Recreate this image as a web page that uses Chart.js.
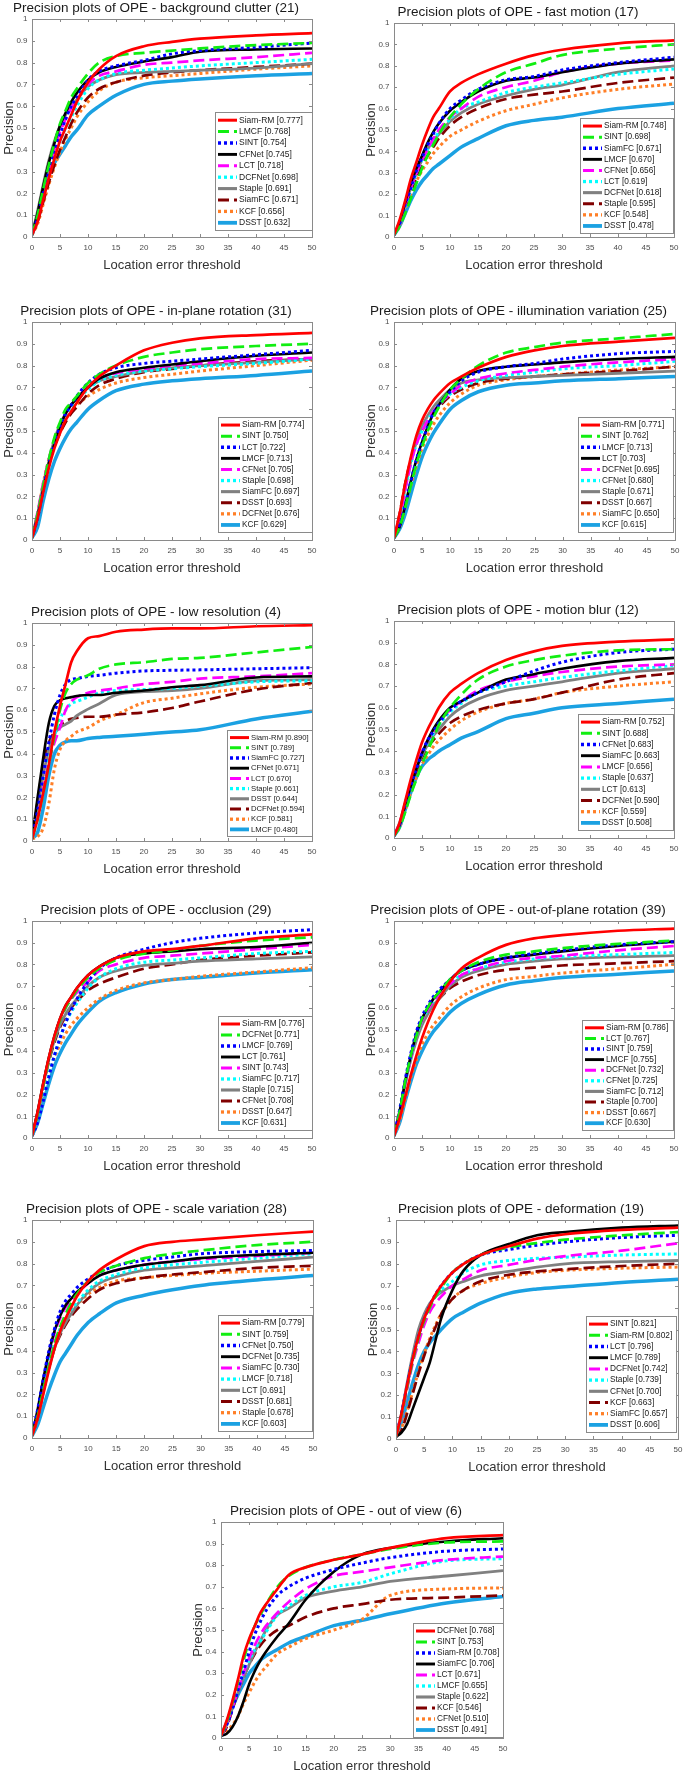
<!DOCTYPE html>
<html>
<head>
<meta charset="utf-8">
<script src="https://cdn.jsdelivr.net/npm/chart.js@4.4.1/dist/chart.umd.min.js"></script>
<style>
  html, body { margin: 0; padding: 0; background: #fff; }
  body { width: 685px; height: 1772px; position: relative; overflow: hidden; }
  canvas { position: absolute; }
</style>
</head>
<body>
<script>
// location error thresholds (x axis samples)
const thresholds = [0, 1, 2, 3, 4, 5, 6, 7, 8, 10, 12, 15, 20, 25, 30, 40, 50];

// --- background clutter (21) ---
const clutterNames = ['Siam-RM', 'LMCF', 'SINT', 'CFNet', 'LCT', 'DCFNet', 'Staple', 'SiamFC', 'KCF', 'DSST'];
const clutterScores = [0.777, 0.768, 0.754, 0.745, 0.718, 0.698, 0.691, 0.671, 0.656, 0.632];
const clutterCurves = [
  [0.01,0.07,0.17,0.27,0.36,0.44,0.50,0.56,0.62,0.71,0.77,0.83,0.875,0.895,0.91,0.925,0.935],
  [0.01,0.10,0.22,0.33,0.43,0.52,0.58,0.64,0.68,0.75,0.80,0.83,0.845,0.855,0.865,0.88,0.89],
  [0.01,0.09,0.20,0.30,0.39,0.47,0.54,0.60,0.64,0.72,0.76,0.785,0.81,0.84,0.855,0.87,0.89],
  [0.01,0.11,0.23,0.34,0.43,0.51,0.57,0.62,0.66,0.72,0.755,0.78,0.805,0.825,0.85,0.86,0.865],
  [0.01,0.09,0.20,0.31,0.40,0.48,0.54,0.59,0.63,0.70,0.74,0.76,0.79,0.80,0.81,0.825,0.845],
  [0.01,0.08,0.19,0.29,0.37,0.44,0.50,0.55,0.60,0.68,0.72,0.75,0.765,0.775,0.785,0.80,0.815],
  [0.01,0.12,0.24,0.35,0.44,0.51,0.56,0.60,0.63,0.69,0.72,0.745,0.755,0.76,0.765,0.775,0.795],
  [0.01,0.07,0.16,0.25,0.33,0.40,0.46,0.52,0.57,0.64,0.68,0.71,0.74,0.755,0.765,0.78,0.795],
  [0.01,0.06,0.15,0.24,0.32,0.39,0.45,0.50,0.55,0.62,0.67,0.71,0.73,0.74,0.75,0.77,0.785],
  [0.01,0.10,0.19,0.28,0.34,0.38,0.42,0.46,0.49,0.56,0.60,0.65,0.70,0.715,0.725,0.74,0.75]
];

// --- fast motion (17) ---
const fastNames = ['Siam-RM', 'SINT', 'SiamFC', 'LMCF', 'CFNet', 'LCT', 'DCFNet', 'Staple', 'KCF', 'DSST'];
const fastScores = [0.748, 0.698, 0.671, 0.670, 0.656, 0.619, 0.618, 0.595, 0.548, 0.478];
const fastCurves = [
  [0.01,0.08,0.17,0.27,0.35,0.43,0.50,0.56,0.60,0.68,0.72,0.76,0.81,0.85,0.875,0.905,0.919],
  [0.01,0.05,0.11,0.18,0.25,0.32,0.38,0.43,0.48,0.56,0.62,0.69,0.77,0.81,0.85,0.88,0.90],
  [0.01,0.06,0.15,0.23,0.31,0.37,0.43,0.48,0.53,0.60,0.64,0.69,0.735,0.75,0.78,0.815,0.84],
  [0.01,0.07,0.16,0.25,0.32,0.38,0.44,0.49,0.53,0.59,0.63,0.68,0.73,0.745,0.77,0.81,0.83],
  [0.01,0.06,0.15,0.23,0.30,0.36,0.41,0.46,0.50,0.56,0.60,0.655,0.70,0.73,0.77,0.81,0.825],
  [0.01,0.06,0.14,0.22,0.30,0.36,0.41,0.45,0.49,0.55,0.60,0.63,0.675,0.70,0.72,0.76,0.785],
  [0.01,0.06,0.15,0.23,0.30,0.36,0.41,0.45,0.48,0.54,0.58,0.62,0.66,0.69,0.71,0.77,0.80],
  [0.01,0.06,0.14,0.21,0.28,0.34,0.38,0.42,0.46,0.52,0.56,0.60,0.645,0.665,0.68,0.72,0.745],
  [0.01,0.05,0.13,0.20,0.26,0.31,0.35,0.39,0.42,0.47,0.50,0.54,0.59,0.62,0.65,0.69,0.715],
  [0.01,0.05,0.11,0.17,0.22,0.26,0.29,0.32,0.34,0.38,0.42,0.46,0.52,0.545,0.56,0.60,0.625]
];

// --- in-plane rotation (31) ---
const inPlaneNames = ['Siam-RM', 'SINT', 'LCT', 'LMCF', 'CFNet', 'Staple', 'SiamFC', 'DSST', 'DCFNet', 'KCF'];
const inPlaneScores = [0.774, 0.750, 0.722, 0.713, 0.705, 0.698, 0.697, 0.693, 0.676, 0.629];
const inPlaneCurves = [
  [0.01,0.10,0.22,0.33,0.42,0.49,0.55,0.59,0.63,0.70,0.75,0.80,0.87,0.905,0.925,0.94,0.95],
  [0.01,0.12,0.25,0.37,0.47,0.54,0.60,0.63,0.66,0.72,0.76,0.80,0.84,0.86,0.875,0.89,0.90],
  [0.01,0.10,0.23,0.35,0.44,0.52,0.58,0.62,0.66,0.72,0.76,0.79,0.81,0.82,0.83,0.85,0.87],
  [0.01,0.11,0.23,0.35,0.44,0.52,0.58,0.62,0.65,0.70,0.74,0.77,0.79,0.805,0.82,0.845,0.86],
  [0.01,0.13,0.26,0.37,0.46,0.53,0.58,0.62,0.65,0.70,0.74,0.765,0.785,0.80,0.81,0.83,0.835],
  [0.01,0.11,0.24,0.35,0.44,0.51,0.57,0.61,0.64,0.69,0.73,0.755,0.775,0.785,0.795,0.81,0.83],
  [0.01,0.12,0.25,0.36,0.46,0.53,0.58,0.62,0.65,0.70,0.73,0.75,0.775,0.79,0.80,0.815,0.83],
  [0.01,0.11,0.24,0.35,0.43,0.49,0.54,0.58,0.61,0.67,0.71,0.74,0.77,0.785,0.80,0.82,0.83],
  [0.01,0.12,0.26,0.37,0.45,0.52,0.57,0.60,0.62,0.66,0.69,0.72,0.745,0.76,0.775,0.80,0.825],
  [0.01,0.06,0.18,0.28,0.36,0.42,0.47,0.51,0.54,0.60,0.64,0.685,0.715,0.73,0.74,0.755,0.775]
];

// --- illumination variation (25) ---
const illumNames = ['Siam-RM', 'SINT', 'LMCF', 'LCT', 'DCFNet', 'CFNet', 'Staple', 'DSST', 'SiamFC', 'KCF'];
const illumScores = [0.771, 0.762, 0.713, 0.703, 0.695, 0.680, 0.671, 0.667, 0.650, 0.615];
const illumCurves = [
  [0.01,0.12,0.26,0.38,0.48,0.55,0.60,0.64,0.67,0.72,0.75,0.79,0.84,0.87,0.89,0.91,0.927],
  [0.01,0.06,0.15,0.25,0.35,0.43,0.50,0.56,0.61,0.69,0.74,0.80,0.86,0.885,0.905,0.925,0.945],
  [0.01,0.07,0.16,0.27,0.37,0.45,0.52,0.58,0.62,0.68,0.73,0.77,0.795,0.81,0.83,0.855,0.865],
  [0.01,0.06,0.16,0.27,0.37,0.45,0.52,0.58,0.62,0.69,0.74,0.775,0.795,0.805,0.815,0.83,0.84],
  [0.01,0.10,0.23,0.35,0.44,0.50,0.55,0.59,0.62,0.67,0.71,0.74,0.765,0.78,0.795,0.815,0.83],
  [0.01,0.10,0.23,0.35,0.44,0.50,0.55,0.59,0.62,0.67,0.70,0.73,0.755,0.77,0.785,0.80,0.82],
  [0.01,0.11,0.24,0.36,0.45,0.52,0.57,0.61,0.64,0.69,0.72,0.735,0.745,0.75,0.755,0.765,0.775],
  [0.01,0.12,0.26,0.37,0.45,0.50,0.55,0.58,0.61,0.66,0.69,0.72,0.74,0.75,0.76,0.775,0.795],
  [0.01,0.06,0.15,0.25,0.34,0.42,0.48,0.53,0.57,0.63,0.67,0.71,0.735,0.75,0.76,0.78,0.795],
  [0.01,0.05,0.12,0.21,0.30,0.38,0.44,0.49,0.53,0.60,0.64,0.68,0.71,0.72,0.73,0.74,0.75]
];

// --- low resolution (4) ---
const lowResNames = ['Siam-RM', 'SINT', 'SiamFC', 'CFNet', 'LCT', 'Staple', 'DSST', 'DCFNet', 'KCF', 'LMCF'];
const lowResScores = [0.890, 0.789, 0.727, 0.671, 0.670, 0.661, 0.644, 0.594, 0.581, 0.480];
const lowResCurves = [
  [0.01,0.10,0.22,0.35,0.50,0.62,0.72,0.82,0.87,0.93,0.94,0.96,0.97,0.975,0.975,0.985,0.99],
  [0.01,0.10,0.22,0.35,0.48,0.60,0.68,0.72,0.74,0.76,0.79,0.81,0.82,0.835,0.84,0.865,0.89],
  [0.01,0.14,0.30,0.45,0.58,0.67,0.72,0.74,0.745,0.755,0.76,0.77,0.78,0.783,0.785,0.79,0.795],
  [0.01,0.20,0.38,0.54,0.62,0.645,0.655,0.66,0.665,0.67,0.67,0.68,0.69,0.705,0.715,0.75,0.755],
  [0.01,0.11,0.24,0.36,0.45,0.52,0.60,0.64,0.66,0.68,0.69,0.70,0.72,0.73,0.745,0.755,0.77],
  [0.01,0.11,0.24,0.37,0.48,0.56,0.60,0.63,0.64,0.66,0.68,0.69,0.695,0.70,0.71,0.73,0.735],
  [0.01,0.15,0.30,0.42,0.49,0.52,0.535,0.55,0.575,0.605,0.63,0.67,0.685,0.69,0.70,0.735,0.74],
  [0.01,0.18,0.35,0.45,0.50,0.53,0.55,0.56,0.565,0.57,0.57,0.58,0.59,0.61,0.64,0.695,0.725],
  [0.01,0.02,0.06,0.17,0.33,0.42,0.46,0.48,0.50,0.52,0.55,0.58,0.635,0.655,0.675,0.705,0.72],
  [0.01,0.04,0.15,0.30,0.40,0.44,0.455,0.46,0.46,0.47,0.475,0.48,0.49,0.50,0.51,0.56,0.595]
];

// --- motion blur (12) ---
const blurNames = ['Siam-RM', 'SINT', 'CFNet', 'SiamFC', 'LMCF', 'Staple', 'LCT', 'DCFNet', 'KCF', 'DSST'];
const blurScores = [0.752, 0.688, 0.683, 0.663, 0.656, 0.637, 0.613, 0.590, 0.559, 0.508];
const blurCurves = [
  [0.01,0.07,0.17,0.27,0.36,0.44,0.50,0.55,0.60,0.67,0.71,0.76,0.82,0.86,0.885,0.905,0.915],
  [0.01,0.05,0.12,0.20,0.27,0.34,0.40,0.46,0.52,0.60,0.66,0.73,0.79,0.82,0.84,0.865,0.87],
  [0.01,0.06,0.15,0.24,0.32,0.39,0.45,0.49,0.53,0.59,0.63,0.67,0.72,0.77,0.81,0.855,0.87],
  [0.01,0.06,0.15,0.24,0.32,0.39,0.45,0.50,0.54,0.60,0.63,0.67,0.73,0.755,0.78,0.815,0.83],
  [0.01,0.07,0.16,0.25,0.33,0.40,0.45,0.49,0.53,0.59,0.63,0.68,0.72,0.745,0.765,0.79,0.80],
  [0.01,0.06,0.16,0.25,0.33,0.39,0.44,0.48,0.52,0.58,0.62,0.67,0.70,0.72,0.74,0.77,0.795],
  [0.01,0.07,0.16,0.25,0.32,0.38,0.43,0.47,0.50,0.56,0.60,0.64,0.68,0.70,0.72,0.76,0.78],
  [0.01,0.06,0.15,0.24,0.31,0.37,0.42,0.45,0.48,0.53,0.56,0.59,0.62,0.64,0.67,0.73,0.76],
  [0.01,0.05,0.13,0.21,0.28,0.34,0.38,0.42,0.45,0.50,0.54,0.58,0.62,0.64,0.67,0.70,0.72],
  [0.01,0.05,0.13,0.21,0.28,0.33,0.36,0.38,0.40,0.43,0.46,0.49,0.55,0.575,0.60,0.62,0.64]
];

// --- occlusion (29) ---
const occlNames = ['Siam-RM', 'DCFNet', 'LMCF', 'LCT', 'SINT', 'SiamFC', 'Staple', 'CFNet', 'DSST', 'KCF'];
const occlScores = [0.776, 0.771, 0.769, 0.761, 0.743, 0.717, 0.715, 0.708, 0.647, 0.631];
const occlCurves = [
  [0.01,0.12,0.25,0.37,0.47,0.55,0.61,0.65,0.69,0.75,0.79,0.83,0.86,0.87,0.885,0.92,0.938],
  [0.01,0.11,0.24,0.36,0.46,0.54,0.60,0.64,0.68,0.74,0.78,0.82,0.85,0.865,0.885,0.91,0.925],
  [0.01,0.07,0.17,0.28,0.38,0.46,0.53,0.59,0.64,0.72,0.78,0.83,0.87,0.90,0.92,0.945,0.96],
  [0.01,0.12,0.25,0.37,0.47,0.55,0.61,0.65,0.69,0.75,0.79,0.83,0.85,0.86,0.87,0.88,0.90],
  [0.01,0.11,0.24,0.36,0.46,0.54,0.60,0.64,0.67,0.72,0.77,0.80,0.83,0.84,0.85,0.87,0.89],
  [0.01,0.08,0.18,0.29,0.38,0.46,0.53,0.58,0.62,0.69,0.74,0.78,0.81,0.82,0.83,0.85,0.86],
  [0.01,0.12,0.25,0.36,0.45,0.52,0.57,0.61,0.64,0.70,0.74,0.77,0.795,0.805,0.815,0.825,0.835],
  [0.01,0.11,0.24,0.35,0.44,0.51,0.56,0.60,0.63,0.68,0.71,0.74,0.78,0.80,0.82,0.84,0.855],
  [0.01,0.08,0.19,0.29,0.37,0.43,0.48,0.52,0.55,0.60,0.64,0.68,0.715,0.73,0.745,0.765,0.785],
  [0.01,0.07,0.16,0.25,0.33,0.39,0.44,0.48,0.52,0.58,0.63,0.67,0.71,0.73,0.74,0.76,0.775]
];

// --- out-of-plane rotation (39) ---
const outPlaneNames = ['Siam-RM', 'LCT', 'SINT', 'LMCF', 'DCFNet', 'CFNet', 'SiamFC', 'Staple', 'DSST', 'KCF'];
const outPlaneScores = [0.786, 0.767, 0.759, 0.755, 0.732, 0.725, 0.712, 0.700, 0.667, 0.630];
const outPlaneCurves = [
  [0.01,0.09,0.19,0.29,0.38,0.46,0.53,0.59,0.64,0.72,0.78,0.83,0.89,0.92,0.935,0.955,0.965],
  [0.01,0.12,0.26,0.38,0.47,0.55,0.60,0.64,0.67,0.73,0.77,0.81,0.845,0.86,0.875,0.895,0.91],
  [0.01,0.13,0.27,0.39,0.49,0.56,0.61,0.65,0.68,0.73,0.77,0.80,0.83,0.85,0.865,0.89,0.905],
  [0.01,0.12,0.26,0.38,0.48,0.55,0.60,0.64,0.67,0.73,0.77,0.80,0.83,0.845,0.86,0.885,0.905],
  [0.01,0.12,0.25,0.37,0.47,0.54,0.59,0.63,0.66,0.71,0.75,0.78,0.815,0.83,0.84,0.865,0.885],
  [0.01,0.11,0.25,0.37,0.47,0.54,0.59,0.63,0.66,0.71,0.75,0.78,0.81,0.825,0.835,0.845,0.855],
  [0.01,0.12,0.25,0.36,0.45,0.52,0.57,0.61,0.64,0.70,0.74,0.77,0.80,0.815,0.825,0.835,0.84],
  [0.01,0.12,0.25,0.37,0.46,0.53,0.58,0.61,0.64,0.69,0.72,0.75,0.775,0.785,0.795,0.805,0.815],
  [0.01,0.08,0.18,0.28,0.36,0.43,0.48,0.52,0.55,0.61,0.65,0.69,0.73,0.745,0.76,0.78,0.80],
  [0.01,0.07,0.17,0.26,0.34,0.40,0.45,0.49,0.52,0.58,0.62,0.66,0.705,0.725,0.74,0.755,0.77]
];

// --- scale variation (28) ---
const scaleNames = ['Siam-RM', 'SINT', 'CFNet', 'DCFNet', 'SiamFC', 'LMCF', 'LCT', 'DSST', 'Staple', 'KCF'];
const scaleScores = [0.779, 0.759, 0.750, 0.735, 0.730, 0.718, 0.691, 0.681, 0.678, 0.603];
const scaleCurves = [
  [0.01,0.09,0.20,0.31,0.41,0.49,0.55,0.60,0.65,0.72,0.77,0.82,0.88,0.90,0.91,0.93,0.947],
  [0.01,0.10,0.22,0.33,0.43,0.51,0.57,0.62,0.66,0.72,0.76,0.79,0.825,0.845,0.86,0.885,0.90],
  [0.01,0.13,0.27,0.40,0.50,0.58,0.63,0.66,0.69,0.73,0.76,0.79,0.815,0.83,0.845,0.855,0.86],
  [0.01,0.13,0.27,0.39,0.49,0.56,0.61,0.64,0.67,0.71,0.745,0.77,0.795,0.81,0.825,0.84,0.85],
  [0.01,0.12,0.26,0.38,0.48,0.55,0.60,0.63,0.66,0.71,0.745,0.77,0.795,0.81,0.82,0.835,0.85],
  [0.01,0.10,0.23,0.34,0.43,0.50,0.55,0.59,0.62,0.68,0.72,0.75,0.78,0.795,0.805,0.825,0.845],
  [0.01,0.09,0.21,0.32,0.41,0.48,0.53,0.57,0.61,0.67,0.71,0.74,0.77,0.78,0.79,0.81,0.83],
  [0.01,0.09,0.21,0.32,0.41,0.47,0.52,0.56,0.59,0.64,0.68,0.71,0.735,0.75,0.76,0.78,0.79],
  [0.01,0.11,0.24,0.35,0.44,0.50,0.55,0.58,0.61,0.66,0.69,0.72,0.735,0.745,0.755,0.765,0.775],
  [0.01,0.06,0.14,0.22,0.29,0.35,0.39,0.43,0.47,0.53,0.57,0.62,0.655,0.68,0.70,0.725,0.745]
];

// --- deformation (19) ---
const deformNames = ['SINT', 'Siam-RM', 'LCT', 'LMCF', 'DCFNet', 'Staple', 'CFNet', 'KCF', 'SiamFC', 'DSST'];
const deformScores = [0.821, 0.802, 0.796, 0.789, 0.742, 0.739, 0.700, 0.663, 0.657, 0.606];
const deformCurves = [
  [0.01,0.12,0.25,0.37,0.47,0.55,0.61,0.66,0.70,0.76,0.80,0.84,0.88,0.915,0.935,0.955,0.965],
  [0.01,0.11,0.24,0.36,0.46,0.54,0.60,0.65,0.69,0.76,0.80,0.84,0.875,0.895,0.91,0.93,0.945],
  [0.01,0.12,0.25,0.37,0.47,0.55,0.61,0.66,0.70,0.76,0.80,0.84,0.865,0.885,0.90,0.92,0.93],
  [0.01,0.03,0.07,0.14,0.21,0.28,0.35,0.45,0.55,0.68,0.77,0.84,0.89,0.93,0.945,0.965,0.975],
  [0.01,0.10,0.23,0.35,0.44,0.52,0.58,0.62,0.65,0.70,0.73,0.77,0.795,0.818,0.835,0.86,0.894],
  [0.01,0.11,0.25,0.37,0.47,0.55,0.61,0.65,0.68,0.72,0.76,0.795,0.815,0.825,0.83,0.84,0.845],
  [0.01,0.12,0.26,0.39,0.50,0.57,0.62,0.65,0.67,0.70,0.72,0.745,0.765,0.785,0.80,0.81,0.815],
  [0.01,0.04,0.12,0.21,0.30,0.38,0.45,0.51,0.57,0.64,0.68,0.72,0.75,0.765,0.775,0.79,0.80],
  [0.01,0.05,0.13,0.22,0.31,0.39,0.46,0.52,0.57,0.64,0.68,0.71,0.74,0.76,0.77,0.78,0.785],
  [0.01,0.08,0.17,0.26,0.34,0.40,0.44,0.47,0.50,0.55,0.58,0.62,0.665,0.685,0.695,0.715,0.73]
];

// --- out of view (6) ---
const viewNames = ['DCFNet', 'SINT', 'Siam-RM', 'SiamFC', 'LCT', 'LMCF', 'Staple', 'KCF', 'CFNet', 'DSST'];
const viewScores = [0.768, 0.753, 0.708, 0.706, 0.671, 0.655, 0.622, 0.546, 0.510, 0.491];
const viewCurves = [
  [0.01,0.08,0.17,0.27,0.38,0.46,0.52,0.58,0.62,0.69,0.755,0.79,0.825,0.85,0.88,0.925,0.939],
  [0.01,0.07,0.16,0.26,0.36,0.45,0.52,0.57,0.62,0.70,0.75,0.79,0.825,0.85,0.875,0.905,0.91],
  [0.01,0.06,0.13,0.22,0.31,0.40,0.48,0.54,0.59,0.66,0.70,0.74,0.78,0.81,0.835,0.865,0.875],
  [0.01,0.02,0.05,0.10,0.17,0.25,0.31,0.36,0.40,0.47,0.53,0.64,0.77,0.85,0.88,0.91,0.925],
  [0.01,0.06,0.14,0.22,0.30,0.37,0.43,0.48,0.52,0.58,0.63,0.69,0.75,0.77,0.79,0.825,0.84],
  [0.01,0.07,0.15,0.23,0.30,0.36,0.41,0.45,0.49,0.57,0.61,0.66,0.70,0.72,0.76,0.82,0.83],
  [0.01,0.06,0.14,0.21,0.28,0.34,0.40,0.45,0.50,0.57,0.60,0.65,0.68,0.70,0.725,0.75,0.775],
  [0.01,0.05,0.13,0.21,0.28,0.34,0.39,0.43,0.46,0.50,0.52,0.56,0.60,0.62,0.64,0.65,0.66],
  [0.01,0.03,0.06,0.10,0.16,0.21,0.26,0.30,0.33,0.39,0.42,0.46,0.50,0.55,0.66,0.69,0.695],
  [0.01,0.07,0.14,0.20,0.25,0.30,0.33,0.36,0.38,0.41,0.44,0.47,0.52,0.545,0.575,0.625,0.655]
];

const plotTitles = [
  'Precision plots of OPE - background clutter (21)',
  'Precision plots of OPE - fast motion (17)',
  'Precision plots of OPE - in-plane rotation (31)',
  'Precision plots of OPE - illumination variation (25)',
  'Precision plots of OPE - low resolution (4)',
  'Precision plots of OPE - motion blur (12)',
  'Precision plots of OPE - occlusion (29)',
  'Precision plots of OPE - out-of-plane rotation (39)',
  'Precision plots of OPE - scale variation (28)',
  'Precision plots of OPE - deformation (19)',
  'Precision plots of OPE - out of view (6)'
];

const plotNames = [clutterNames, fastNames, inPlaneNames, illumNames, lowResNames, blurNames, occlNames, outPlaneNames, scaleNames, deformNames, viewNames];
const plotScores = [clutterScores, fastScores, inPlaneScores, illumScores, lowResScores, blurScores, occlScores, outPlaneScores, scaleScores, deformScores, viewScores];
const plotCurves = [clutterCurves, fastCurves, inPlaneCurves, illumCurves, lowResCurves, blurCurves, occlCurves, outPlaneCurves, scaleCurves, deformCurves, viewCurves];

// line style by rank (matlab tracker-benchmark style)
const rankStyles = [
  { color: '#ff0000', dash: [], width: 2.7 },
  { color: '#11ee11', dash: [11, 5], width: 2.7 },
  { color: '#0000ff', dash: [3, 3], width: 3 },
  { color: '#000000', dash: [], width: 2.6 },
  { color: '#ff00ff', dash: [11, 5], width: 2.7 },
  { color: '#00ffff', dash: [3, 3], width: 3 },
  { color: '#808080', dash: [], width: 2.8 },
  { color: '#800000', dash: [11, 5], width: 2.7 },
  { color: '#ff7f27', dash: [3, 3], width: 3 },
  { color: '#1ba1e2', dash: [], width: 3.5 }
];

// page geometry: plot area [left, top, right, bottom] and legend box [x, y, w, h, fontSize]
const plotRects = [
  [32, 19, 312, 237], [394, 23, 674, 237],
  [32, 322, 312, 540], [394, 322, 675, 540],
  [32, 623, 312, 841], [394, 621, 674, 838],
  [32, 921, 312, 1138], [394, 921, 674, 1138],
  [32, 1220, 313, 1438], [396, 1220, 678, 1439],
  [221, 1522, 503, 1738]
];
const legendRects = [
  [215, 112, 97, 118, 8.5], [580, 118, 93, 115, 8.3],
  [218, 417, 94, 115, 8.3], [578, 417, 95, 115, 8.3],
  [227, 730, 85, 106, 7.7], [578, 714, 95, 116, 8.3],
  [218, 1016, 94, 114, 8.3], [582, 1020, 91, 110, 8.3],
  [218, 1315, 94, 116, 8.3], [586, 1316, 90, 116, 8.3],
  [413, 1623, 90, 114, 8.3]
];

Chart.defaults.font.family = '"Liberation Sans", Arial, Helvetica, sans-serif';

// box around the axes with inward ticks on all four sides
const axesBox = {
  id: 'axesBox',
  afterDatasetsDraw(chart) {
    const { ctx, chartArea: a, scales: { x, y } } = chart;
    ctx.save();
    ctx.strokeStyle = '#8a8a8a';
    ctx.lineWidth = 1;
    ctx.beginPath();
    x.ticks.forEach(t => {
      const px = Math.round(x.getPixelForValue(t.value)) + 0.5;
      ctx.moveTo(px, a.bottom); ctx.lineTo(px, a.bottom - 3);
      ctx.moveTo(px, a.top); ctx.lineTo(px, a.top + 3);
    });
    y.ticks.forEach(t => {
      const py = Math.round(y.getPixelForValue(t.value)) + 0.5;
      ctx.moveTo(a.left, py); ctx.lineTo(a.left + 3, py);
      ctx.moveTo(a.right, py); ctx.lineTo(a.right - 3, py);
    });
    ctx.stroke();
    ctx.strokeRect(Math.round(a.left) + 0.5, Math.round(a.top) + 0.5, Math.round(a.right - a.left), Math.round(a.bottom - a.top));
    ctx.restore();
  }
};

// matlab-like legend box inside the plot
const boxLegend = {
  id: 'boxLegend',
  afterDraw(chart, args, opts) {
    const { ctx } = chart;
    const [bx, by, bw, bh, fs] = opts.rect;
    ctx.save();
    ctx.fillStyle = '#fff';
    ctx.fillRect(bx, by, bw, bh);
    ctx.strokeStyle = '#8a8a8a';
    ctx.lineWidth = 1;
    ctx.strokeRect(bx + 0.5, by + 0.5, bw, bh);
    const sets = chart.data.datasets;
    const rowH = (bh - 4) / sets.length;
    ctx.font = fs + 'px "Liberation Sans", Arial, sans-serif';
    ctx.textBaseline = 'middle';
    sets.forEach((ds, k) => {
      const cy = by + 2.5 + rowH * (k + 0.5);
      ctx.beginPath();
      ctx.setLineDash(ds.borderDash);
      ctx.strokeStyle = ds.borderColor;
      ctx.lineWidth = ds.borderWidth + 0.3;
      ctx.moveTo(bx + 3, cy);
      ctx.lineTo(bx + 22, cy);
      ctx.stroke();
      ctx.setLineDash([]);
      ctx.fillStyle = '#1a1a1a';
      ctx.fillText(ds.label, bx + 24, cy);
    });
    ctx.restore();
  }
};

function crearGrafico(i) {
  const [L, T, R, B] = plotRects[i];
  const left = L - 32, top = T - 19;
  const w = (R - L) + 64, h = (B - T) + 19 + 36;
  const cv = document.createElement('canvas');
  cv.width = w; cv.height = h;
  cv.style.left = left + 'px'; cv.style.top = top + 'px';
  cv.style.width = w + 'px'; cv.style.height = h + 'px';
  document.body.appendChild(cv);

  const lr = legendRects[i];
  const datasets = plotCurves[i].map((curve, j) => ({
    label: plotNames[i][j] + ' [' + plotScores[i][j].toFixed(3) + ']',
    data: thresholds.map((t, k) => ({ x: t, y: curve[k] })),
    borderColor: rankStyles[j].color,
    borderDash: rankStyles[j].dash,
    borderWidth: rankStyles[j].width,
    borderCapStyle: 'butt',
    pointRadius: 0,
    fill: false,
    cubicInterpolationMode: 'monotone'
  }));

  new Chart(cv.getContext('2d'), {
    type: 'line',
    data: { datasets },
    options: {
      responsive: false,
      animation: false,
      devicePixelRatio: 1,
      layout: { padding: { left: 0, right: 32, top: 0, bottom: 0 } },
      scales: {
        x: {
          type: 'linear', min: 0, max: 50,
          grid: { display: false, drawTicks: false },
          border: { display: false },
          ticks: { stepSize: 5, autoSkip: false, maxRotation: 0, padding: 6, color: '#4d4d4d', font: { size: 8 } },
          title: { display: true, text: 'Location error threshold', color: '#333', font: { size: 13, lineHeight: 1 }, padding: { top: 0, bottom: 1.5 } },
          afterFit: s => { s.height = 36; s.paddingLeft = 0; s.paddingRight = 0; }
        },
        y: {
          min: 0, max: 1,
          grid: { display: false, drawTicks: false },
          border: { display: false },
          ticks: { stepSize: 0.1, padding: 4.5, color: '#4d4d4d', font: { size: 8 }, callback: v => String(Math.round(v * 10) / 10) },
          title: { display: true, text: 'Precision', color: '#333', font: { size: 13, lineHeight: 1 }, padding: { top: 2.5, bottom: 0 } },
          afterFit: s => { s.width = 32; s.paddingTop = 0; s.paddingBottom = 0; }
        }
      },
      plugins: {
        legend: { display: false },
        tooltip: { enabled: false },
        title: {
          display: true, text: plotTitles[i], color: '#1a1a1a',
          font: { size: 13.5, weight: 'normal', lineHeight: 1 },
          padding: { top: 1.5, bottom: 4 }
        },
        boxLegend: { rect: [lr[0] - left, lr[1] - top, lr[2], lr[3], lr[4]] }
      }
    },
    plugins: [axesBox, boxLegend]
  });
}

for (let i = 0; i < plotTitles.length; i++) crearGrafico(i);
</script>
</body>
</html>
